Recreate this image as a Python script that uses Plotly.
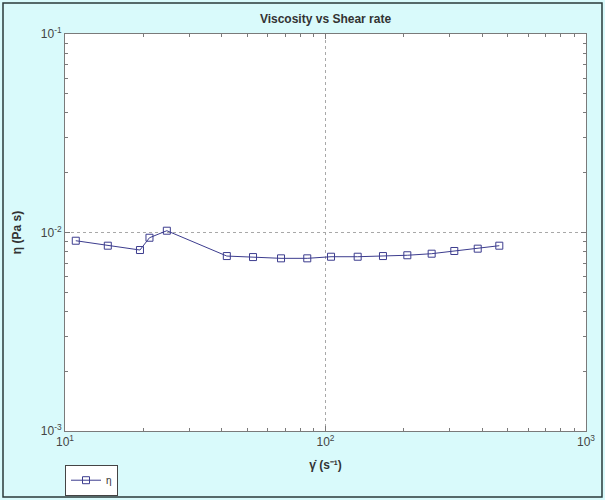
import plotly.graph_objects as go

shear_rate = [11.0, 14.6, 19.4, 21.1, 24.6, 41.8, 52.7, 67.5, 85.1, 105.0,
              132.9, 166.2, 206.1, 255.6, 312.2, 384.0, 464.7]
viscosity = [0.00909, 0.00858, 0.00816, 0.00941, 0.01021, 0.00761, 0.00752,
             0.00741, 0.00741, 0.00755, 0.00755, 0.00761, 0.00768, 0.00782,
             0.00807, 0.00829, 0.00858]

x_major = [10, 100, 1000]
x_major_text = ["10<sup>1</sup>", "10<sup>2</sup>", "10<sup>3</sup>"]
y_major = [0.001, 0.01, 0.1]
y_major_text = ["10<sup>-3</sup>", "10<sup>-2</sup>", "10<sup>-1</sup>"]
x_minor = [m * d for d in (10, 100) for m in range(2, 10)]
y_minor = [m * d for d in (0.001, 0.01) for m in range(2, 10)]

bg = "#d9fafb"
axis_col = "#7a7a7a"
line_col = "#3c3c8e"

fig = go.Figure()
fig.add_trace(go.Scatter(
    x=shear_rate, y=viscosity, mode="lines+markers", name="η",
    line=dict(color=line_col, width=1),
    marker=dict(symbol="square-open", size=7, color=line_col, line=dict(width=1)),
))

common = dict(
    type="log", showline=True, linecolor=axis_col, linewidth=1, mirror="allticks",
    ticks="inside", ticklen=5, tickcolor=axis_col, tickmode="array",
    showgrid=True, gridcolor="#a8a8a8", griddash="dot", gridwidth=1,
    zeroline=False, tickfont=dict(family="Arial", size=12, color="#444"),
)

fig.update_xaxes(
    **common, range=[1, 3], tickvals=x_major, ticktext=x_major_text,
    minor=dict(tickvals=x_minor, ticks="inside", ticklen=3, tickcolor=axis_col, showgrid=False),
    title=dict(text="<b>γ̇ (s⁻¹)</b>", font=dict(family="Arial", size=12, color="#333"), standoff=12),
)
fig.update_yaxes(
    **common, range=[-3, -1], tickvals=y_major, ticktext=y_major_text,
    minor=dict(tickvals=y_minor, ticks="inside", ticklen=3, tickcolor=axis_col, showgrid=False),
    title=dict(text="<b>η (Pa s)</b>", font=dict(family="Arial", size=12, color="#333"), standoff=16),
)

fig.add_shape(type="rect", xref="paper", yref="paper",
              x0=-0.119, x1=1.0307, y0=-0.166, y1=1.078,
              line=dict(color="#2a3a3a", width=1.5), layer="below")

fig.update_layout(
    width=605, height=500,
    margin=dict(l=65, r=19, t=34, b=69, autoexpand=False),
    paper_bgcolor=bg, plot_bgcolor="white",
    title=dict(text="<b>Viscosity vs Shear rate</b>", x=0.5, xanchor="center",
               xref="paper", y=0.962, yanchor="middle",
               font=dict(family="Arial", size=12, color="#333")),
    showlegend=True,
    legend=dict(x=0.0, y=-0.163, xanchor="left", yanchor="bottom",
                bgcolor="white", bordercolor="#444", borderwidth=1,
                font=dict(family="Arial", size=10, color="#333"),
                itemwidth=30, tracegroupgap=0),
)

fig.write_html("out.html", config={"displayModeBar": False},
               post_script="document.body.style.margin='0';")
